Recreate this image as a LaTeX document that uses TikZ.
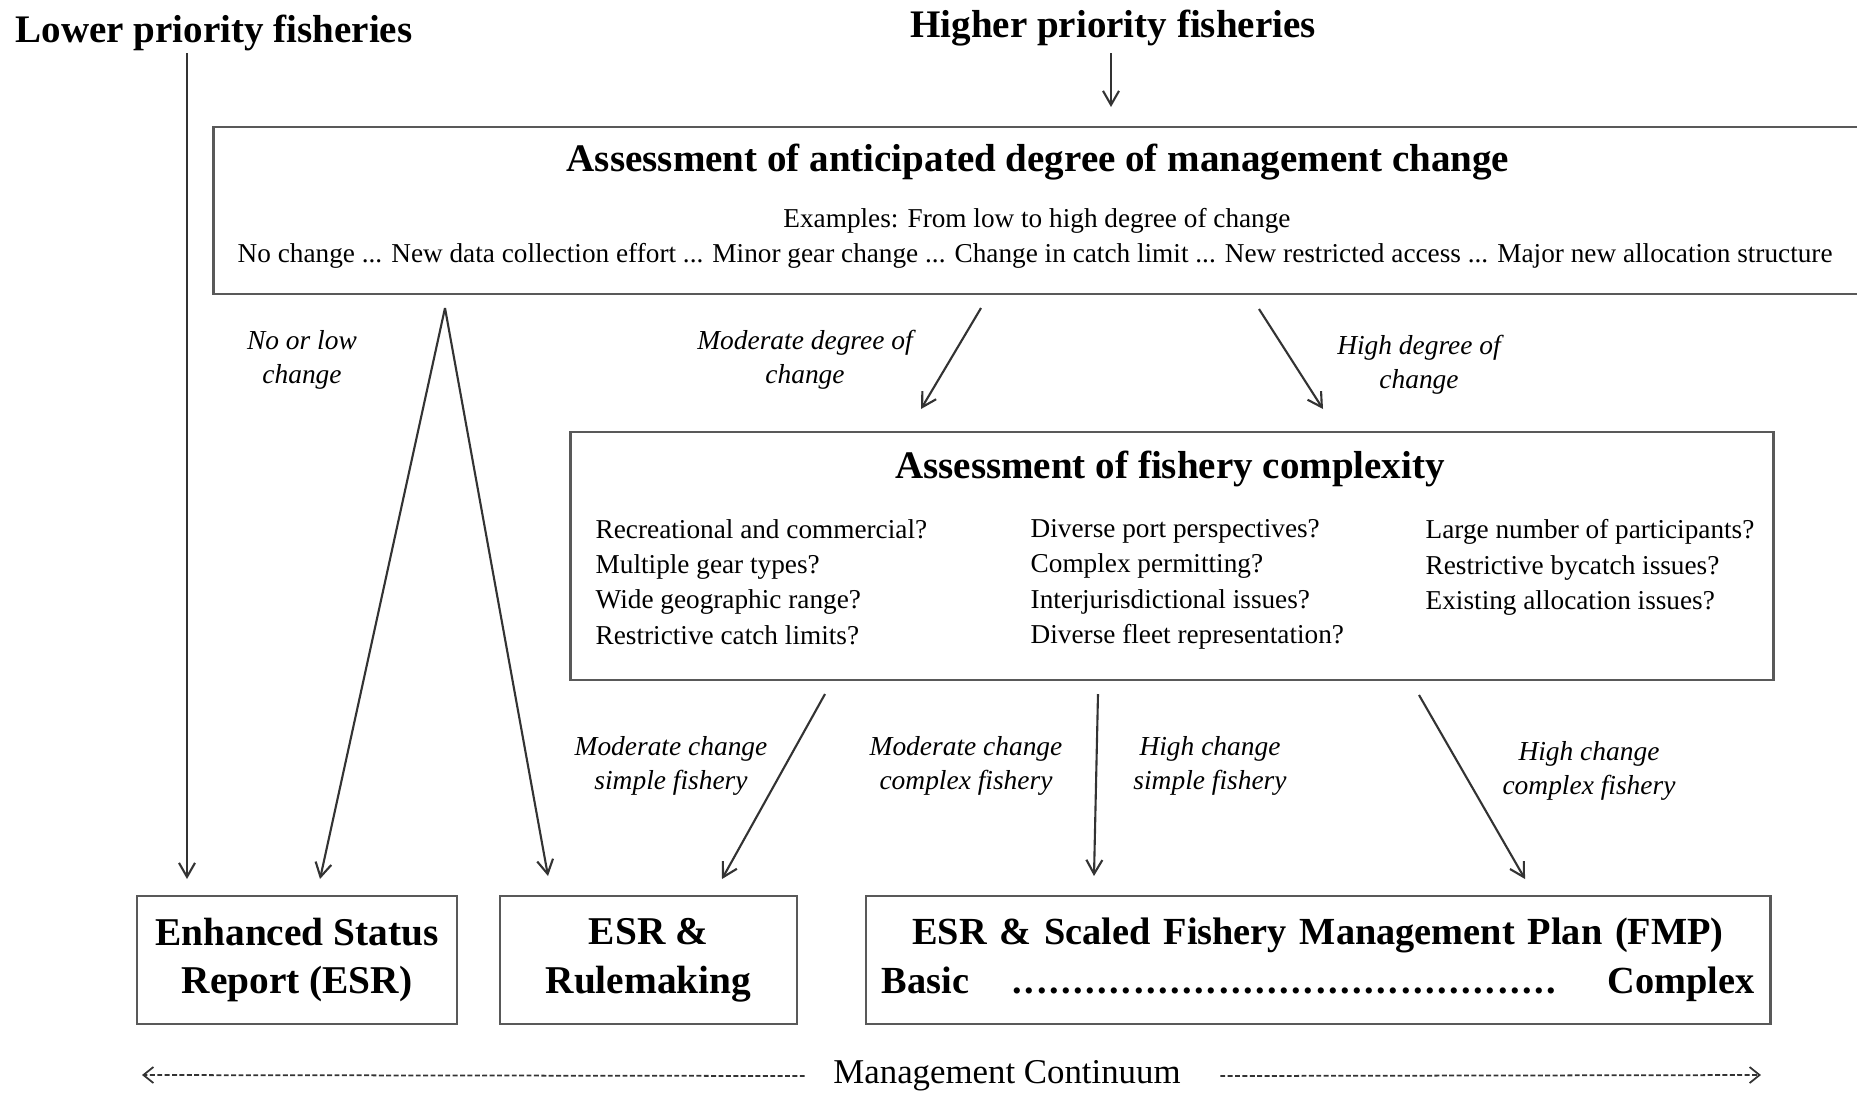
\documentclass[tikz,border=0pt]{standalone}
\usepackage{fontspec}
\setmainfont{Liberation Serif}
\usetikzlibrary{arrows.meta}

\begin{document}
\begin{tikzpicture}[x=0.01cm, y=-0.01cm,
    box/.style={draw=black!65, line width=0.7pt, inner sep=0pt},
    head/.style={font=\bfseries\fontsize{11.1}{13}\selectfont, inner sep=0pt},
    big/.style={font=\bfseries\fontsize{11.2}{13.9}\selectfont, align=center},
    txt/.style={font=\fontsize{7.75}{10}\selectfont, inner sep=0pt},
    lbl/.style={font=\itshape\fontsize{7.8}{9.8}\selectfont, align=center, inner sep=0pt},
    arr/.style={draw=black!80, line width=0.6pt, -{Straight Barb[length=1.4mm,width=1.6mm]}},
    cont/.style={draw=black!80, line width=0.5pt, dash pattern=on 1.4pt off 0.7pt, -{Straight Barb[length=1mm,width=1.6mm]}}]
    \useasboundingbox (0,0) rectangle (1857,1093);

    \node[head, anchor=west] (lower) at (15,33) {Lower priority fisheries};
    \node[head] (higher) at (1113,28) {Higher priority fisheries};

    \node[box, minimum width=16.56cm, minimum height=1.67cm] (change) at (1042,210.5) {};
    \node[head] (changetitle) at (1038,162) {Assessment of anticipated degree of management change};
    \node[txt] (examples) at (1037,221) {Examples: From low to high degree of change};
    \node[txt, anchor=west] (scale) at (237,256) {No change ... New data collection effort ... Minor gear change ... Change in catch limit ... New restricted access ... Major new allocation structure};

    \node[box, minimum width=12.02cm, minimum height=2.48cm] (complex) at (1172,556) {};
    \node[head] (complextitle) at (1170,469) {Assessment of fishery complexity};
    \node[txt, align=left, anchor=north west] (colA) at (595,519) {Recreational and commercial?\\Multiple gear types?\\Wide geographic range?\\Restrictive catch limits?};
    \node[txt, align=left, anchor=north west] (colB) at (1030,519) {Diverse port perspectives?\\Complex permitting?\\Interjurisdictional issues?\\Diverse fleet representation?};
    \node[txt, align=left, anchor=north west] (colC) at (1425,519) {Large number of participants?\\Restrictive bycatch issues?\\Existing allocation issues?};

    \node[box, big, minimum width=3.2cm, minimum height=1.28cm] (esr) at (297,960) {Enhanced Status\\Report (ESR)};
    \node[box, big, minimum width=2.97cm, minimum height=1.28cm] (rule) at (648.5,960) {ESR \&\\Rulemaking};
    \node[box, big, font=\bfseries\fontsize{10.9}{13.9}\selectfont, minimum width=9.04cm, minimum height=1.28cm, text width=8.72cm] (fmp) at (1318,960)
        {ESR \& Scaled Fishery Management Plan (FMP)\\Basic\hfill\hbox to 5.53cm{\leaders\hbox to 3.45pt{\hss.\hss}\hfill}\hfill Complex};

    \node[lbl] (nolow) at (302,360) {No or low\\change};
    \node[lbl] (moddeg) at (805,360) {Moderate degree of\\change};
    \node[lbl] (highdeg) at (1419,365) {High degree of\\change};
    \node[lbl] (modsimple) at (671,766) {Moderate change\\simple fishery};
    \node[lbl] (modcomplex) at (966,766) {Moderate change\\complex fishery};
    \node[lbl] (highsimple) at (1210,766) {High change\\simple fishery};
    \node[lbl] (highcomplex) at (1589,771) {High change\\complex fishery};

    \node[font=\fontsize{9.9}{12}\selectfont, inner sep=0pt] (continuum) at (1007,1076) {Management Continuum};

    \coordinate (lowtop) at (187,53);
    \coordinate (lowend) at (187,879);
    \coordinate (hightop) at (1111,53);
    \coordinate (highend) at (1111,107);
    \coordinate (apex) at (445,308);
    \coordinate (apexL) at (320,879);
    \coordinate (apexR) at (548,876);
    \coordinate (modtop) at (981,308);
    \coordinate (modend) at (921,409);
    \coordinate (hdtop) at (1259,309);
    \coordinate (hdend) at (1323,409);
    \coordinate (mstop) at (825,694);
    \coordinate (msend) at (722,879);
    \coordinate (midtop) at (1098,694);
    \coordinate (midend) at (1094,876);
    \coordinate (hctop) at (1419,695);
    \coordinate (hcend) at (1525,879);
    \coordinate (contL) at (142,1075);
    \coordinate (contR) at (1761,1075);

    \draw[arr] (lowtop) -- (lowend);
    \draw[arr] (hightop) -- (highend);
    \draw[arr] (apex) -- (apexL);
    \draw[arr] (apex) -- (apexR);
    \draw[arr] (modtop) -- (modend);
    \draw[arr] (hdtop) -- (hdend);
    \draw[arr] (mstop) -- (msend);
    \draw[arr] (midtop) -- (midend);
    \draw[arr] (hctop) -- (hcend);
    \draw[cont] ([xshift=-0.28cm]continuum.west) -- (contL);
    \draw[cont] ([xshift=0.39cm]continuum.east) -- (contR);
\end{tikzpicture}
\end{document}
